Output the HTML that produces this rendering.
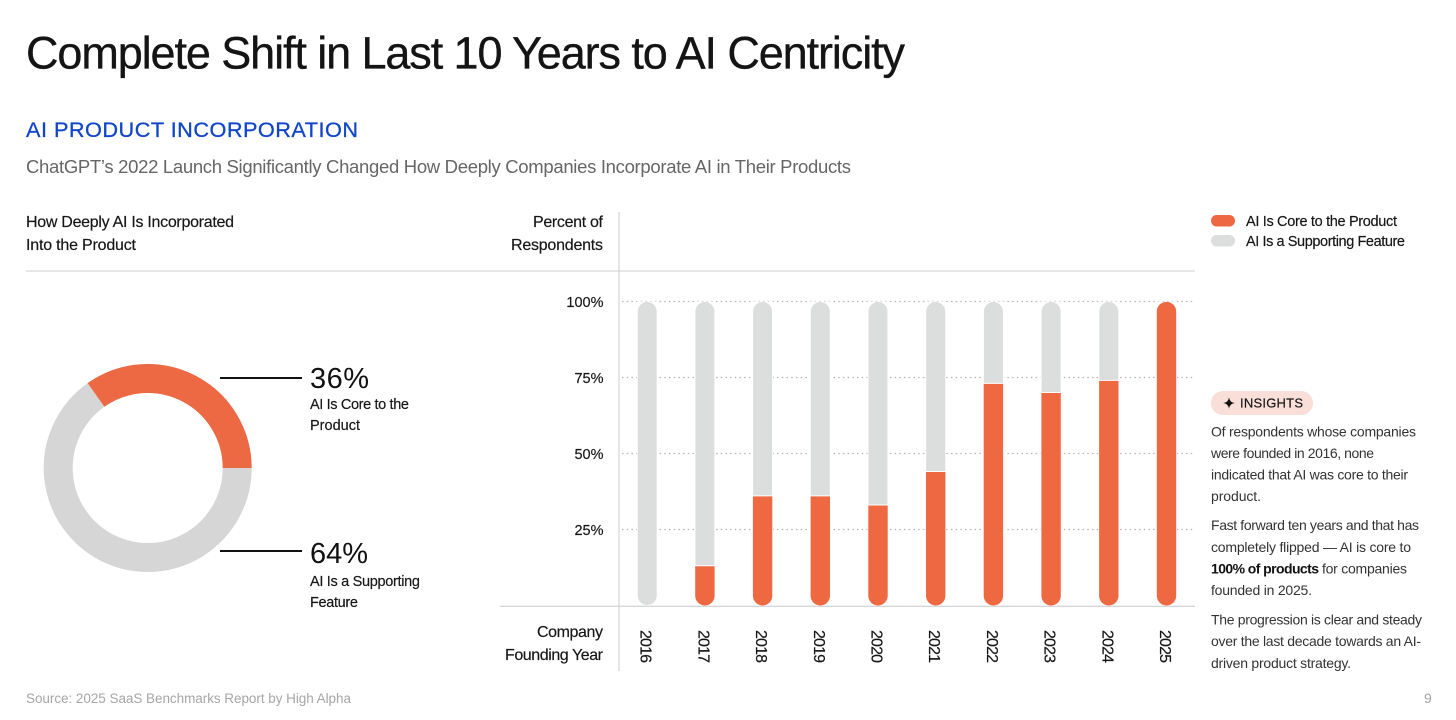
<!DOCTYPE html>
<html lang="en">
<head>
<meta charset="utf-8">
<title>Complete Shift in Last 10 Years to AI Centricity</title>
<style>
html,body{margin:0;padding:0;background:#fff;width:1456px;height:720px;overflow:hidden}
svg{display:block}
text{font-family:"Liberation Sans",Arial,sans-serif;fill:#161616}
.dark{stroke:#161616;stroke-width:.18}
</style>
</head>
<body>
<svg id="slide" xmlns="http://www.w3.org/2000/svg" width="1456" height="720" viewBox="0 0 1456 720">
  <rect x="0" y="0" width="1456" height="720" fill="#ffffff"/>

  <text x="26" y="68.500" font-size="45" textLength="879" style="fill:#141414;stroke:#141414;stroke-width:.35">Complete Shift in Last 10 Years to AI Centricity</text>
  <text x="26" y="136.800" font-size="21.700" textLength="332" style="fill:#1146c8;stroke:#1146c8;stroke-width:.3">AI PRODUCT INCORPORATION</text>
  <text x="26" y="173" font-size="18.500" textLength="825" style="fill:#666666">ChatGPT’s 2022 Launch Significantly Changed How Deeply Companies Incorporate AI in Their Products</text>

  <text class="dark" x="26" y="227" font-size="16" textLength="208">How Deeply AI Is Incorporated</text>
  <text class="dark" x="26" y="250" font-size="16" textLength="110">Into the Product</text>
  <text class="dark" x="533" y="227" font-size="16" textLength="70">Percent of</text>
  <text class="dark" x="511" y="250" font-size="16" textLength="92">Respondents</text>
  <text class="dark" x="537" y="637" font-size="16" textLength="66">Company</text>
  <text class="dark" x="505" y="660" font-size="16" textLength="98">Founding Year</text>

  <line x1="26" y1="271" x2="1195" y2="271" stroke="#dfdfdf" stroke-width="1.6"/>
  <line x1="619" y1="212" x2="619" y2="671" stroke="#d4d4d4" stroke-width="1.2"/>

  <g id="donut"></g>
  <line x1="220" y1="378" x2="302" y2="378" stroke="#111" stroke-width="2"/>
  <line x1="220" y1="551" x2="302" y2="551" stroke="#111" stroke-width="2"/>
  <text id="pct-core" x="310" y="388" font-size="29" textLength="59" style="fill:#111"></text>
  <text class="dark" x="310" y="409" font-size="14.500" textLength="99">AI Is Core to the</text>
  <text class="dark" x="310" y="430" font-size="14.500" textLength="50">Product</text>
  <text id="pct-support" x="310" y="563" font-size="29" textLength="58" style="fill:#111"></text>
  <text class="dark" x="310" y="586" font-size="14.500" textLength="110">AI Is a Supporting</text>
  <text class="dark" x="310" y="607" font-size="14.500" textLength="48">Feature</text>

  <g id="grid"></g>
  <g id="yticks"></g>
  <g id="bars"></g>
  <line x1="500" y1="606.300" x2="1195" y2="606.300" stroke="#d6d6d6" stroke-width="1.3"/>
  <g id="xticks"></g>

  <g>
    <rect x="1211" y="215" width="24" height="11.500" rx="5.700" fill="#ee6842"/>
    <text class="dark" x="1246" y="226" font-size="14.500" textLength="151">AI Is Core to the Product</text>
    <rect x="1211" y="235" width="24" height="11.500" rx="5.700" fill="#dcdedd"/>
    <text class="dark" x="1246" y="245.800" font-size="14.500" textLength="159">AI Is a Supporting Feature</text>
  </g>

  <g>
    <rect x="1211" y="391" width="102" height="24" rx="12" fill="#f9dfd8"/>
    <path d="M1229 397.200 Q1229.600 402.400 1234.800 403 Q1229.600 403.600 1229 408.800 Q1228.400 403.600 1223.200 403 Q1228.400 402.400 1229 397.200 Z" fill="#111"/>
    <text class="dark" x="1240" y="407.500" font-size="13" textLength="63">INSIGHTS</text>
  </g>

  <g>
    <text x="1211" y="436.500" font-size="14" textLength="205" style="fill:#333">Of respondents whose companies</text>
    <text x="1211" y="458" font-size="14" textLength="163" style="fill:#333">were founded in 2016, none</text>
    <text x="1211" y="479.500" font-size="14" textLength="197" style="fill:#333">indicated that AI was core to their</text>
    <text x="1211" y="501" font-size="14" textLength="50" style="fill:#333">product.</text>
    <text x="1211" y="530" font-size="14" textLength="208" style="fill:#333">Fast forward ten years and that has</text>
    <text x="1211" y="552" font-size="14" textLength="200" style="fill:#333">completely flipped — AI is core to</text>
    <text x="1211" y="573.500" font-size="14" textLength="108" font-weight="700" style="fill:#111">100% of products</text>
    <text x="1322" y="573.500" font-size="14" textLength="85" style="fill:#333">for companies</text>
    <text x="1211" y="595" font-size="14" textLength="101" style="fill:#333">founded in 2025.</text>
    <text x="1211" y="624.500" font-size="14" textLength="211" style="fill:#333">The progression is clear and steady</text>
    <text x="1211" y="646" font-size="14" textLength="210" style="fill:#333">over the last decade towards an AI-</text>
    <text x="1211" y="668" font-size="14" textLength="140" style="fill:#333">driven product strategy.</text>
  </g>

  <text x="26" y="703" font-size="13.500" textLength="325" style="fill:#a6a6a6">Source: 2025 SaaS Benchmarks Report by High Alpha</text>
  <text x="1424" y="703" font-size="14" style="fill:#a6a6a6">9</text>
</svg>

<script>
var years = ["2016","2017","2018","2019","2020","2021","2022","2023","2024","2025"];
var coreValues = [0, 13, 36, 36, 33, 44, 73, 70, 74, 100];
var supportingValues = [100, 87, 64, 64, 67, 56, 27, 30, 26, 0];
var yTickValues = [100, 75, 50, 25];
var donutSlices = [34.8, 65.2];
var donutPrintedValues = ["36%", "64%"];

var NS = "http://www.w3.org/2000/svg";
var ORANGE = "#ee6842", GRAY = "#dcdedd";

function yScale(v){ return 605.5 - v * 3.04; }
function xScale(i){ return 647.2 + i * 57.7; }

function make(tag, parent){
  var el = document.createElementNS(NS, tag);
  parent.appendChild(el);
  return el;
}

/* Segment path: optional rounded top and/or bottom caps */
function segPath(cx, w, y0, y1, roundTop, roundBottom){
  var r = w / 2, l = cx - r, rt = cx + r;
  var d = "";
  if (roundTop){
    d += "M" + l + " " + (y0 + r) + " A" + r + " " + r + " 0 0 1 " + rt + " " + (y0 + r);
  } else {
    d += "M" + l + " " + y0 + " L" + rt + " " + y0;
  }
  if (roundBottom){
    d += " L" + rt + " " + (y1 - r) + " A" + r + " " + r + " 0 0 1 " + l + " " + (y1 - r);
  } else {
    d += " L" + rt + " " + y1 + " L" + l + " " + y1;
  }
  return d + " Z";
}

/* Gridlines and y tick labels */
var gridG = document.getElementById("grid");
var ytG = document.getElementById("yticks");
yTickValues.forEach(function(v){
  var ln = make("line", gridG);
  
  
  ln.setAttribute("x1", 622);
  ln.setAttribute("x2", 1195);
  ln.setAttribute("y1", yScale(v));
  ln.setAttribute("y2", yScale(v));
  ln.setAttribute("stroke", "#b4b4b4");
  ln.setAttribute("stroke-width", "1.3");
  ln.setAttribute("stroke-dasharray", "1.5 3.2");
  var t = make("text", ytG);
  
  
  t.setAttribute("class", "dark");
  t.setAttribute("x", 603.5);
  t.setAttribute("y", yScale(v) + 5.5);
  t.setAttribute("font-size", "14.5");
  t.setAttribute("text-anchor", "end");
  t.textContent = v + "%";
});

/* Bars */
var barsG = document.getElementById("bars");
var BAR_W = 19;
years.forEach(function(year, i){
  var cx = xScale(i);
  var core = coreValues[i];
  var sup = supportingValues[i];
  var yBoundary = yScale(core);

  var halo = make("rect", barsG);
  
  
  halo.setAttribute("x", cx - BAR_W / 2 - 1);
  halo.setAttribute("y", yScale(core + sup));
  halo.setAttribute("width", BAR_W + 2);
  halo.setAttribute("height", yScale(0) - yScale(core + sup));
  halo.setAttribute("fill", "#ffffff");

  if (sup > 0){
    var g = make("path", barsG);
    
    
    g.setAttribute("d", segPath(cx, BAR_W, yScale(core + sup) + 0.5, core > 0 ? yBoundary - 0.7 : yScale(0) - 0.5, true, core === 0));
    g.setAttribute("fill", GRAY);
  }
  if (core > 0){
    var c = make("path", barsG);
    
    
    c.setAttribute("d", segPath(cx, BAR_W + 0.4, yBoundary + 0.3, yScale(0), sup === 0, true));
    c.setAttribute("fill", ORANGE);
  }
});

/* Year labels */
var xtG = document.getElementById("xticks");
years.forEach(function(year, i){
  var t = make("text", xtG);
  
  
  t.setAttribute("class", "dark");
  var tx = xScale(i) - 6.5;
  t.setAttribute("transform", "translate(" + tx + " 630) rotate(90)");
  t.setAttribute("font-size", "16");
  t.setAttribute("textLength", "33");
  t.textContent = year;
});

/* Donut */
var donutG = document.getElementById("donut");
var DCX = 147.7, DCY = 468, DR = 89.5, DW = 29;
function polar(pct){
  var a = pct / 100 * 2 * Math.PI;
  return [DCX + DR * Math.cos(a), DCY - DR * Math.sin(a)];
}
function arcPath(from, to, large){
  var p0 = polar(from), p1 = polar(to);
  return "M" + p0[0] + " " + p0[1] + " A" + DR + " " + DR + " 0 " + (large ? 1 : 0) + " 0 " + p1[0] + " " + p1[1];
}
var coreShare = donutSlices[0] / (donutSlices[0] + donutSlices[1]) * 100;

var arcSupport = make("path", donutG);


arcSupport.setAttribute("d", arcPath(coreShare, 100, 100 - coreShare > 50));
arcSupport.setAttribute("fill", "none");
arcSupport.setAttribute("stroke", "#d6d6d6");
arcSupport.setAttribute("stroke-width", DW);

var arcCore = make("path", donutG);


arcCore.setAttribute("d", arcPath(0, coreShare, coreShare > 50));
arcCore.setAttribute("fill", "none");
arcCore.setAttribute("stroke", "#ec6944");
arcCore.setAttribute("stroke-width", DW);

document.getElementById("pct-core").textContent = donutPrintedValues[0];
document.getElementById("pct-support").textContent = donutPrintedValues[1];
</script>
</body>
</html>
